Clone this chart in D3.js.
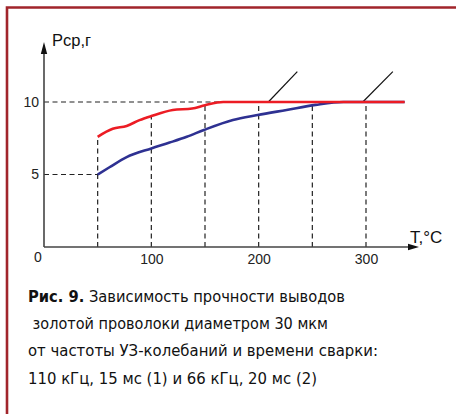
<!DOCTYPE html>
<html><head><meta charset="utf-8">
<script src="https://cdn.jsdelivr.net/npm/d3@7"></script>
<style>body{margin:0;background:#fff}svg{display:block}</style>
</head><body>
<svg id="c" width="456" height="414"></svg>
<script>
// Data
const redT = [50, 64, 77, 89, 100, 120, 138, 150, 167, 200, 336];
const redP = [7.6, 8.15, 8.35, 8.75, 9.03, 9.45, 9.55, 9.78, 10, 10, 10];
const blueT = [50, 61, 77, 100, 117, 133, 149, 176, 199, 226, 253, 279, 336];
const blueP = [5, 5.5, 6.2, 6.8, 7.2, 7.6, 8.07, 8.76, 9.1, 9.45, 9.8, 10, 10];
const gridT = [50, 100, 150, 200, 250, 300];
const gridTop = [7.6, 9.03, 9.78, 10, 9.85, 10];
const hDashP = [10, 5];
const hDashEnd = [165, 50];
const xTicks = [100, 200, 300];
const yTicks = [5, 10];
const leaders = [[209, 10, 236, 12.1], [297, 10, 325, 12.1]];
const caption = [
  ["Рис. 9.", " Зависимость прочности выводов"],
  ["", " золотой проволоки диаметром 30 мкм"],
  ["", "от частоты УЗ-колебаний и времени сварки:"],
  ["", "110 кГц, 15 мс (1) и 66 кГц, 20 мс (2)"]
];

const svg = d3.select("#c");
const x = d3.scaleLinear().domain([0, 300]).range([44, 366]);
const y = d3.scaleLinear().domain([0, 10]).range([247, 102]);

// frame
svg.append("path").attr("d", "M7,414 V7.5 H456").attr("fill", "none")
  .attr("stroke", "#a1252b").attr("stroke-width", 2.6);

const dash = "5,3.5";
svg.selectAll(".vd").data(gridT).enter().append("line")
  .attr("x1", d => x(d)).attr("x2", d => x(d))
  .attr("y1", y(0)).attr("y2", (d, i) => y(gridTop[i]))
  .attr("stroke", "#222").attr("stroke-width", 1.2).attr("stroke-dasharray", dash);
svg.selectAll(".hd").data(hDashP).enter().append("line")
  .attr("x1", x(0)).attr("x2", (d, i) => x(hDashEnd[i]))
  .attr("y1", d => y(d)).attr("y2", d => y(d))
  .attr("stroke", "#222").attr("stroke-width", 1.2).attr("stroke-dasharray", dash);

// axes
const axisCol = "#444";
const lblFont = "Liberation Sans, Arial, sans-serif";
svg.append("line").attr("x1", x(0)).attr("x2", x(0)).attr("y1", y(0)).attr("y2", 52)
  .attr("stroke", axisCol).attr("stroke-width", 1.6);
svg.append("path").attr("d", `M${x(0)},42 L${x(0)-3.2},54 L${x(0)+3.2},54 Z`).attr("fill", "#111");
svg.append("line").attr("x1", x(0)).attr("x2", 410).attr("y1", y(0)).attr("y2", y(0))
  .attr("stroke", axisCol).attr("stroke-width", 1.6);
svg.append("path").attr("d", `M419,${y(0)} L408,${y(0)-3.2} L408,${y(0)+3.2} Z`).attr("fill", "#111");

const xAxis = d3.axisBottom(x).tickValues(xTicks).tickSize(0).tickPadding(7);
const gx = svg.append("g").attr("transform", `translate(0,${y(0)})`).call(xAxis);
gx.select(".domain").remove();
gx.selectAll("text").attr("font-family", lblFont).attr("font-size", 14).attr("fill", "#222");

const yAxis = d3.axisLeft(y).tickValues(yTicks).tickSize(0).tickPadding(5);
const gy = svg.append("g").attr("transform", `translate(${x(0)},0)`).call(yAxis);
gy.select(".domain").remove();
gy.selectAll("text").attr("font-family", lblFont).attr("font-size", 14).attr("fill", "#222");

svg.append("text").attr("x", 38).attr("y", 262).attr("text-anchor", "middle")
  .attr("font-family", lblFont).attr("font-size", 14).attr("fill", "#222").text("0");

svg.append("text").attr("x", 52).attr("y", 46)
  .attr("font-family", lblFont).attr("font-size", 16.5).attr("fill", "#111").text("Рср,г");
svg.append("text").attr("x", 410).attr("y", 243)
  .attr("font-family", lblFont).attr("font-size", 17).attr("fill", "#111").text("T,°C");

// leaders
svg.selectAll(".ld").data(leaders).enter().append("line")
  .attr("x1", d => x(d[0])).attr("y1", d => y(d[1]))
  .attr("x2", d => x(d[2])).attr("y2", d => y(d[3]))
  .attr("stroke", "#111").attr("stroke-width", 1.2);

// curves
const line = d3.line().x(d => x(d[0])).y(d => y(d[1])).curve(d3.curveMonotoneX);
svg.append("path").datum(blueT.map((t, i) => [t, blueP[i]])).attr("d", line)
  .attr("fill", "none").attr("stroke", "#2e3192").attr("stroke-width", 2.6);
svg.append("path").datum(redT.map((t, i) => [t, redP[i]])).attr("d", line)
  .attr("fill", "none").attr("stroke", "#ec1c24").attr("stroke-width", 2.6);

// caption
const capX = [28, 28, 28, 28];
const capW = [317, 300, 350, 289];
const capFont = "DejaVu Sans Condensed, Open Sans, sans-serif";
caption.forEach((c, i) => {
  const t = svg.append("text").attr("x", capX[i]).attr("y", 302 + i * 27.2)
    .attr("font-family", capFont).attr("font-size", 15.5).attr("fill", "#111")
    .attr("textLength", capW[i]).attr("lengthAdjust", "spacingAndGlyphs")
    .attr("xml:space", "preserve").style("white-space", "pre");
  if (c[0]) t.append("tspan").attr("font-weight", "bold").text(c[0]);
  t.append("tspan").text(c[1]);
});
</script>
</body></html>
